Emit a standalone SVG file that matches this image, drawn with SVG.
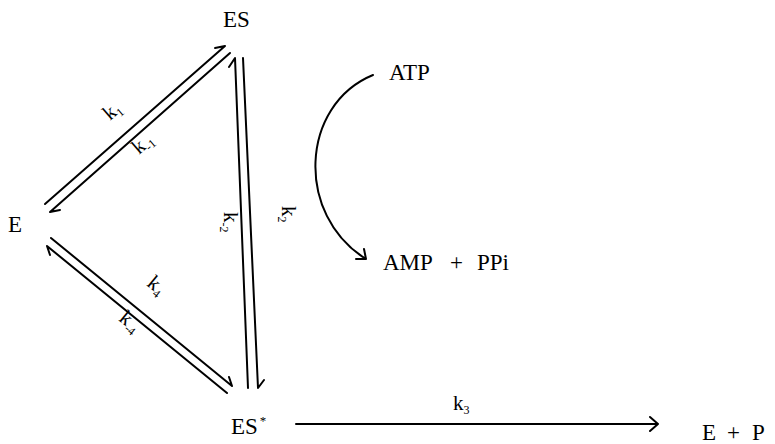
<svg xmlns="http://www.w3.org/2000/svg" width="775" height="444" viewBox="0 0 775 444">
<style>
.t{font-family:"Liberation Serif","DejaVu Serif",serif;font-size:23px;fill:#000}
.k{font-family:"Liberation Serif","DejaVu Serif",serif;font-size:21px;fill:#000}
.s{font-size:12px}
.ln{fill:none;stroke:#000;stroke-width:2;stroke-linecap:round;stroke-linejoin:round}
</style>
<rect width="775" height="444" fill="#fff"/>
<g id="E"><text class="t" x="8" y="232">E</text></g>
<g id="ES"><text class="t" x="223" y="27">ES</text></g>
<g id="ESstar"><text class="t" x="231" y="434">ES<tspan dx="2" dy="-9" font-size="13">*</tspan></text></g>
<g id="EP"><text class="t" x="702" y="440">E<tspan x="727">+</tspan><tspan x="752">P</tspan></text></g>
<g id="ATP"><text class="t" x="389" y="80">ATP</text></g>
<g id="AMP"><text class="t" x="383" y="270">AMP<tspan x="450">+</tspan><tspan x="477">PPi</tspan></text></g>
<g id="connectors">
  <path class="ln" d="M45,204 L225,46 L215,48"/>
  <path class="ln" d="M230,53 L50,212 L60,210"/>
  <path class="ln" d="M51,238 L232,386 L229,377"/>
  <path class="ln" d="M227,393 L47,246 L50,255"/>
  <path class="ln" d="M248,388 L235,58 L229,67"/>
  <path class="ln" d="M243,58 L258,388 L264,380"/>
  <path class="ln" d="M296,424 L658,424 M650,417 L658,424 L650,431"/>
  <path class="ln" d="M373,75 C300,105 295,215 366,259 M356,259 L366,259 L364,249"/>
</g>
<g id="labels">
  <text class="k" transform="translate(110,121) rotate(-41)">k<tspan class="s" dy="4">1</tspan></text>
  <text class="k" transform="translate(139,155) rotate(-41)">k<tspan class="s" dy="4">-1</tspan></text>
  <text class="k" transform="translate(146,285) rotate(39)">k<tspan class="s" dy="4">4</tspan></text>
  <text class="k" transform="translate(118,320) rotate(39)">k<tspan class="s" dy="4">-4</tspan></text>
  <text class="k" transform="translate(282,206) rotate(90)">k<tspan class="s" dy="4">2</tspan></text>
  <text class="k" transform="translate(224,212) rotate(90)">k<tspan class="s" dy="4">-2</tspan></text>
  <text class="k" x="453" y="410">k<tspan class="s" dy="4">3</tspan></text>
</g>
</svg>
